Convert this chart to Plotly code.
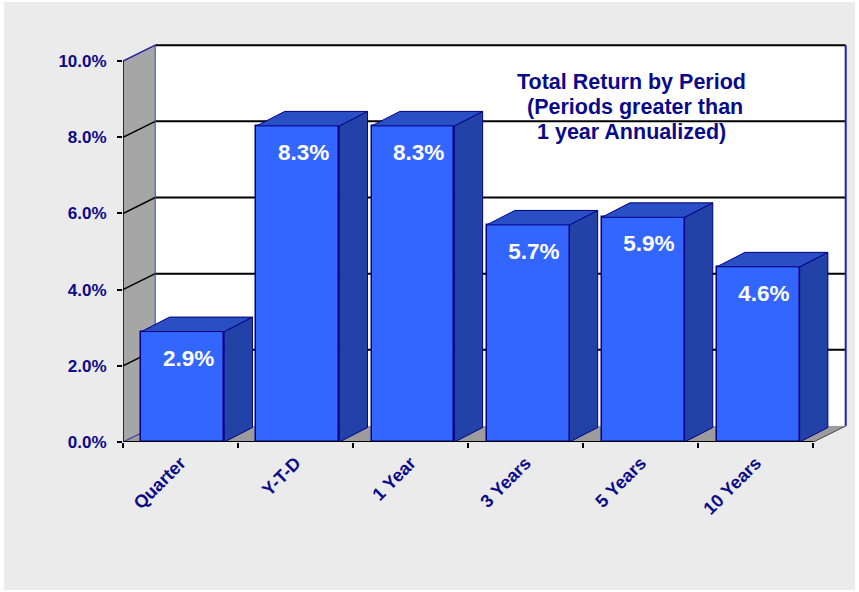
import plotly.graph_objects as go

# ---- data ----
categories = ["Quarter", "Y-T-D", "1 Year", "3 Years", "5 Years", "10 Years"]
returns = [2.9, 8.3, 8.3, 5.7, 5.9, 4.6]
label_text = ["2.9%", "8.3%", "8.3%", "5.7%", "5.9%", "4.6%"]
y_ticks = [0, 2, 4, 6, 8, 10]
y_tick_text = ["0.0%", "2.0%", "4.0%", "6.0%", "8.0%", "10.0%"]
title_lines = ["Total Return by Period", " (Periods greater than", "1 year Annualized)"]

# ---- style / geometry ----
NAVY = "#0a0a8a"
FRONT = "#3366ff"
SIDE = "#2242a8"
TOP = "#2a4fc4"
WALL_L = "#a6a6a6"
FLOOR = "#9c9c9c"
FONT = "Liberation Sans, Arial, sans-serif"
DX, DY = 0.28, 0.42        # wall depth offset (data units)
BDX, BDY = 0.245, 0.38     # bar depth offset
BW = 0.72                  # bar width
OFF = 0.52                 # bar centre within category
n = len(categories)
ymax = 10
PW, PH = 725, 398          # plot area size in px
L, T = 123, 44

centers = [i + OFF for i in range(n)]

fig = go.Figure()

# front faces
fig.add_trace(go.Bar(
    x=centers, y=returns, width=BW,
    marker=dict(color=FRONT, line=dict(color="#000080", width=1.5)),
    hoverinfo="skip", showlegend=False,
))

# side and top faces
sx, sy, tx, ty = [], [], [], []
for c, v in zip(centers, returns):
    l, r = c - BW / 2, c + BW / 2
    sx += [r, r + BDX, r + BDX, r, r, None]
    sy += [0, BDY, v + BDY, v, 0, None]
    tx += [l, r, r + BDX, l + BDX, l, None]
    ty += [v, v, v + BDY, v + BDY, v, None]
fig.add_trace(go.Scatter(x=sx, y=sy, mode="lines", fill="toself", fillcolor=SIDE,
                         line=dict(color="#000080", width=1), hoverinfo="skip",
                         showlegend=False))
fig.add_trace(go.Scatter(x=tx, y=ty, mode="lines", fill="toself", fillcolor=TOP,
                         line=dict(color="#000080", width=1), hoverinfo="skip",
                         showlegend=False))

# value labels
fig.add_trace(go.Scatter(
    x=[c + 0.05 for c in centers], y=[v - 0.75 for v in returns],
    mode="text", text=label_text,
    textfont=dict(family=FONT, size=22.5, color="white", weight="bold"),
    hoverinfo="skip", showlegend=False,
))

shapes = []
# gray card background
shapes.append(dict(type="rect", xref="paper", yref="paper", layer="below",
                   x0=(4 - L) / PW, x1=(855 - L) / PW, y0=(T + PH - 590) / PH, y1=(T + PH - 2) / PH,
                   fillcolor="#ebebeb", line=dict(width=0)))
# back wall
shapes.append(dict(type="path", layer="below",
                   path=f"M{DX},{DY} L{n+DX},{DY} L{n+DX},{ymax+DY} L{DX},{ymax+DY} Z",
                   fillcolor="white", line=dict(width=0)))
# left wall
shapes.append(dict(type="path", layer="below",
                   path=f"M0,0 L{DX},{DY} L{DX},{ymax+DY} L0,{ymax} Z",
                   fillcolor=WALL_L, line=dict(width=0)))
# floor
shapes.append(dict(type="path", layer="below",
                   path=f"M0,0 L{n},0 L{n+DX},{DY} L{DX},{DY} Z",
                   fillcolor=FLOOR, line=dict(width=0)))
# gridlines
for v in y_ticks[1:]:
    shapes.append(dict(type="line", layer="below", x0=DX, x1=n + DX, y0=v + DY, y1=v + DY,
                       line=dict(color="black", width=2)))
    shapes.append(dict(type="line", layer="below", x0=0, x1=DX, y0=v, y1=v + DY,
                       line=dict(color="#2020a0" if v == ymax else "black", width=1.5)))
# wall edges
shapes.append(dict(type="line", layer="below", x0=DX, x1=DX, y0=DY, y1=ymax + DY,
                   line=dict(color="#4040c0", width=1)))
shapes.append(dict(type="line", layer="below", x0=n + DX, x1=n + DX, y0=DY, y1=ymax + DY,
                   line=dict(color="#2020b0", width=2)))
shapes.append(dict(type="line", layer="below", x0=0, x1=DX, y0=0, y1=DY,
                   line=dict(color="#2020a0", width=1)))
shapes.append(dict(type="line", layer="below", x0=n, x1=n + DX, y0=0, y1=DY,
                   line=dict(color="#444444", width=1)))
# front axes
shapes.append(dict(type="line", layer="below", x0=0, x1=0, y0=0, y1=ymax,
                   line=dict(color="black", width=1.5)))
shapes.append(dict(type="line", layer="above", x0=0, x1=n, y0=0, y1=0,
                   line=dict(color="black", width=2)))

annotations = []
for k, (line_txt, ypx) in enumerate(zip(title_lines, [81.7, 106.7, 131.7])):
    annotations.append(dict(
        xref="paper", yref="paper", x=(631.5 - L) / PW, y=(T + PH - ypx) / PH,
        xanchor="center", yanchor="middle", showarrow=False, align="center",
        text=line_txt,
        font=dict(family=FONT, size=21.5, color=NAVY, weight="bold"),
    ))

fig.update_layout(
    width=859, height=592,
    margin=dict(l=L, r=859 - L - PW, t=T, b=592 - T - PH),
    paper_bgcolor="white",
    plot_bgcolor="rgba(0,0,0,0)",
    shapes=shapes,
    annotations=annotations,
    showlegend=False,
    bargap=0,
    xaxis=dict(
        range=[0, 6.3], showgrid=False, zeroline=False, showline=False,
        tickvals=[i + 0.5 for i in range(n)], ticktext=categories, ticks="",
        tickangle=-45, ticklabelstandoff=6,
        tickfont=dict(family=FONT, size=18, color=NAVY, weight="bold"),
        minor=dict(tickvals=list(range(n + 1)), ticks="outside", ticklen=5,
                   tickcolor="black", tickwidth=1.5, showgrid=False),
        fixedrange=True,
    ),
    yaxis=dict(
        range=[0, 10.45], showgrid=False, zeroline=False, showline=False,
        tickvals=y_ticks, ticktext=y_tick_text, ticks="outside", ticklen=5,
        tickcolor="black", tickwidth=1.5, ticklabelstandoff=7,
        tickfont=dict(family=FONT, size=17, color=NAVY, weight="bold"),
        fixedrange=True,
    ),
)

fig.write_html("out.html", config={"displayModeBar": False},
               post_script="document.body.style.margin='0';")
